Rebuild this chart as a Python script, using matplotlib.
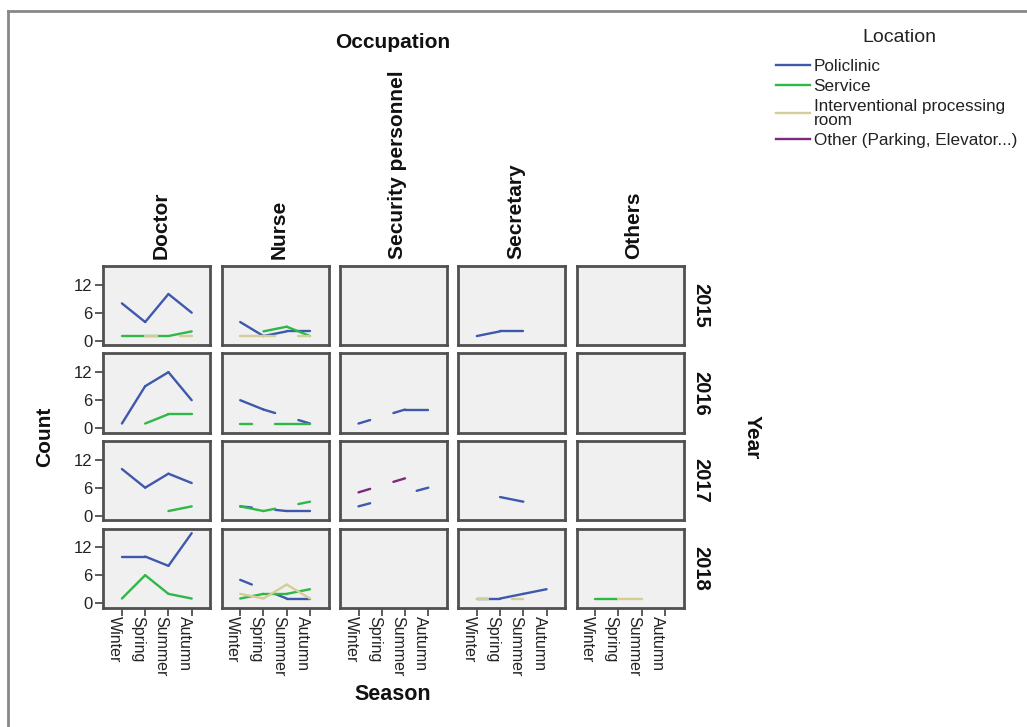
import numpy as np
import matplotlib.pyplot as plt
from matplotlib.lines import Line2D

plt.rcParams['font.family'] = ['Liberation Sans', 'DejaVu Sans']

W, H = 1027, 727  # output size in px

occupations = ['Doctor', 'Nurse', 'Security personnel', 'Secretary', 'Others']
years = ['2015', '2016', '2017', '2018']
seasons = ['Winter', 'Spring', 'Summer', 'Autumn']
locations = ['Policlinic', 'Service', 'Interventional processing\nroom',
             'Other (Parking, Elevator...)']
colors = ['#3E58AC', '#2EB848', '#D3CE97', '#7C287D']
yticks = [0, 6, 12]

n = np.nan
# counts per season, keyed by (occupation, year)
policlinic = {
    ('Doctor', '2015'): [8, 4, 10, 6],
    ('Doctor', '2016'): [1, 9, 12, 6],
    ('Doctor', '2017'): [10, 6, 9, 7],
    ('Doctor', '2018'): [10, 10, 8, 15],
    ('Nurse', '2015'): [4, 1, 2, 2],
    ('Nurse', '2016'): [6, 4, n, 1],
    ('Nurse', '2017'): [2, n, 1, 1],
    ('Nurse', '2018'): [5, n, 1, 1],
    ('Security personnel', '2016'): [1, n, 4, 4],
    ('Security personnel', '2017'): [2, n, n, 6],
    ('Secretary', '2015'): [1, 2, 2, n],
    ('Secretary', '2017'): [n, 4, 3, n],
    ('Secretary', '2018'): [1, 1, 2, 3],
}
service = {
    ('Doctor', '2015'): [1, 1, 1, 2],
    ('Doctor', '2016'): [n, 1, 3, 3],
    ('Doctor', '2017'): [n, n, 1, 2],
    ('Doctor', '2018'): [1, 6, 2, 1],
    ('Nurse', '2015'): [n, 2, 3, 1],
    ('Nurse', '2016'): [1, n, 1, 1],
    ('Nurse', '2017'): [2, 1, n, 3],
    ('Nurse', '2018'): [1, 2, 2, 3],
    ('Others', '2018'): [1, 1, n, n],
}
interventional = {
    ('Doctor', '2015'): [n, 1, n, 1],
    ('Nurse', '2015'): [1, 1, n, 1],
    ('Nurse', '2018'): [2, 1, 4, 1],
    ('Secretary', '2018'): [1, n, 1, n],
    ('Others', '2018'): [n, 1, 1, n],
}
other_loc = {
    ('Security personnel', '2017'): [5, n, 8, n],
}
series = [policlinic, service, interventional, other_loc]
zorders = [2, 3, 4, 5]


def px_rect(x, y, w, h):
    return [x / W, 1 - (y + h) / H, w / W, h / H]


def draw_line(ax, vals, color, z):
    # SPSS style: points are joined across gaps, but the part that falls
    # inside a missing category is left out
    idx = [i for i, v in enumerate(vals) if not np.isnan(v)]
    for a, b in zip(idx[:-1], idx[1:]):
        ya, yb = vals[a], vals[b]
        if b == a + 1:
            segs = [([a, b], [ya, yb])]
        else:
            s = (yb - ya) / (b - a)
            segs = [([a, a + 0.5], [ya, ya + 0.5 * s]),
                    ([b - 0.5, b], [yb - 0.5 * s, yb])]
        for xs, ys in segs:
            ax.plot(xs, ys, color=color, lw=1.7, zorder=z,
                    solid_capstyle='round')


fig = plt.figure(figsize=(W / 100, H / 100), dpi=100)

col_left = 103.3
col_step = 118.3
row_top = 266
row_step = 87.5
pw, ph = 107, 79

for r, yr in enumerate(years):
    for c, occ in enumerate(occupations):
        ax = fig.add_axes(px_rect(col_left + c * col_step, row_top + r * row_step, pw, ph))
        ax.set_facecolor('#F0F0F0')
        for sp in ax.spines.values():
            sp.set_color('#505050')
            sp.set_linewidth(2)
        for k, d in enumerate(series):
            if (occ, yr) in d:
                draw_line(ax, np.array(d[(occ, yr)], dtype=float), colors[k], zorders[k])
        ax.set_xlim(-0.8, 3.8)
        ax.set_ylim(-0.92, 16)
        ax.set_xticks(range(len(seasons)))
        ax.set_yticks(yticks)
        ax.tick_params(direction='out', length=6, width=1.2, color='#404040',
                       labelcolor='#222222')
        if c == 0:
            ax.set_yticklabels([str(t) for t in yticks], fontsize=12)
            ax.tick_params(axis='y', pad=2)
        else:
            ax.tick_params(axis='y', left=False, labelleft=False)
        if r == len(years) - 1:
            ax.set_xticklabels(seasons, fontsize=11.5, rotation=270,
                               ha='right', va='top')
            ax.tick_params(axis='x', pad=0)
        else:
            ax.tick_params(axis='x', bottom=False, labelbottom=False)

# column / row headers
for c, occ in enumerate(occupations):
    cx = col_left + c * col_step + pw / 2 + 4
    fig.text(cx / W, 1 - 259 / H, occ, rotation=90, ha='center', va='bottom',
             fontsize=15, fontweight='bold', color='#111111')
for r, yr in enumerate(years):
    cy = row_top + r * row_step + ph / 2
    fig.text(701 / W, 1 - cy / H, yr, rotation=270, ha='center', va='center',
             fontsize=14.5, fontweight='bold', color='#111111')

fig.text(393 / W, 1 - 42 / H, 'Occupation', ha='center', va='center',
         fontsize=15, fontweight='bold', color='#111111')
fig.text(393 / W, 1 - 695 / H, 'Season', ha='center', va='center',
         fontsize=15.5, fontweight='bold', color='#111111')
fig.text(45 / W, 1 - 437 / H, 'Count', rotation=90, ha='center', va='center',
         fontsize=15, fontweight='bold', color='#111111')
fig.text(752 / W, 1 - 437 / H, 'Year', rotation=270, ha='center', va='center',
         fontsize=15, fontweight='bold', color='#111111')

# legend
fig.text(899 / W, 1 - 38 / H, 'Location', ha='center', va='center',
         fontsize=14, color='#222222')
handles = [Line2D([], [], color=col, lw=1.7) for col in colors]
leg = fig.legend(handles, locations, loc='upper left',
                 bbox_to_anchor=(776 / W, 1 - 59 / H), frameon=False,
                 fontsize=12.3, handlelength=2.0, handletextpad=0.2,
                 labelspacing=0.28, borderaxespad=0, borderpad=0)
for t in leg.get_texts():
    t.set_color('#222222')
    t.set_linespacing(0.95)

# outer frame (only the top and left edges show)
fig.add_artist(Line2D([8 / W, 8 / W], [0, 1 - 11 / H], color='#888888', lw=2))
fig.add_artist(Line2D([8 / W, 1], [1 - 11 / H, 1 - 11 / H], color='#888888', lw=2))

fig.savefig('out.png', dpi=100)
